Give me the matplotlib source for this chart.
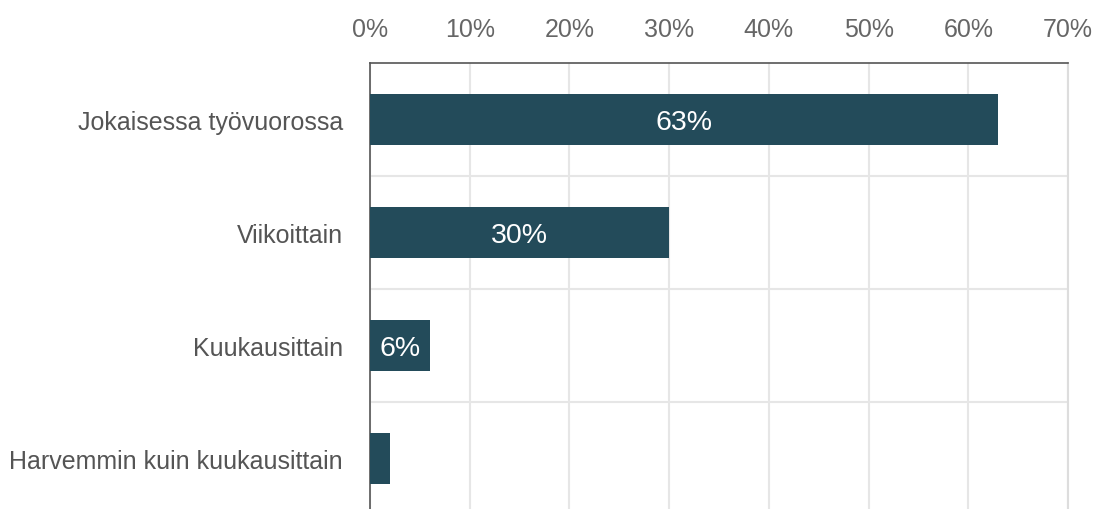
import matplotlib
matplotlib.use("Agg")
import matplotlib.pyplot as plt
from matplotlib.ticker import FuncFormatter

categories = ["Jokaisessa työvuorossa", "Viikoittain", "Kuukausittain", "Harvemmin kuin kuukausittain"]
values = [63, 30, 6, 2]
labels = ["63%", "30%", "6%", ""]
xticks = [0, 10, 20, 30, 40, 50, 60, 70]

plt.rcParams['font.family'] = ['Liberation Sans', 'DejaVu Sans']

W, H = 1094, 510
fig = plt.figure(figsize=(W / 100, H / 100), dpi=100)
left, right, top, bottom = 370, 1068, 64, 510
ax = fig.add_axes([left / W, 1 - bottom / H, (right - left) / W, (bottom - top) / H])

bar_color = "#234b5a"
ypos = list(range(len(categories)))
ax.barh(ypos, values, height=0.46, color=bar_color, zorder=3)

for y, v, lab in zip(ypos, values, labels):
    if lab:
        ax.text(v / 2, y, lab, ha="center", va="center_baseline", color="white", fontsize=20.5, zorder=4)

ax.set_xlim(0, 70)
ax.set_ylim(3.447, -0.5)
ax.set_xticks(xticks)
ax.xaxis.set_major_formatter(FuncFormatter(lambda x, p: f"{int(x)}%"))
ax.xaxis.tick_top()
ax.tick_params(axis="x", length=0, pad=16, labelsize=18, labelcolor="#666666")
ax.set_yticks(ypos)
ax.set_yticklabels(categories)
ax.tick_params(axis="y", length=0, pad=19.5, labelsize=18, labelcolor="#555555")
for t in ax.get_yticklabels():
    t.set_va("center_baseline")

ax.set_yticks([0.5, 1.5, 2.5], minor=True)
ax.tick_params(axis="y", which="minor", length=0)
ax.grid(axis="x", which="major", color="#e6e6e6", linewidth=1.5, zorder=0)
ax.grid(axis="y", which="minor", color="#e6e6e6", linewidth=1.5, zorder=0)
ax.grid(axis="y", which="major", visible=False)

ax.spines["bottom"].set_visible(False)
ax.spines["right"].set_color("#dddddd")
ax.spines["right"].set_linewidth(1.5)
ax.spines["top"].set_color("#555555")
ax.spines["left"].set_color("#555555")
ax.spines["top"].set_linewidth(1.2)
ax.spines["left"].set_linewidth(1.2)

fig.savefig("out.png", dpi=100)
